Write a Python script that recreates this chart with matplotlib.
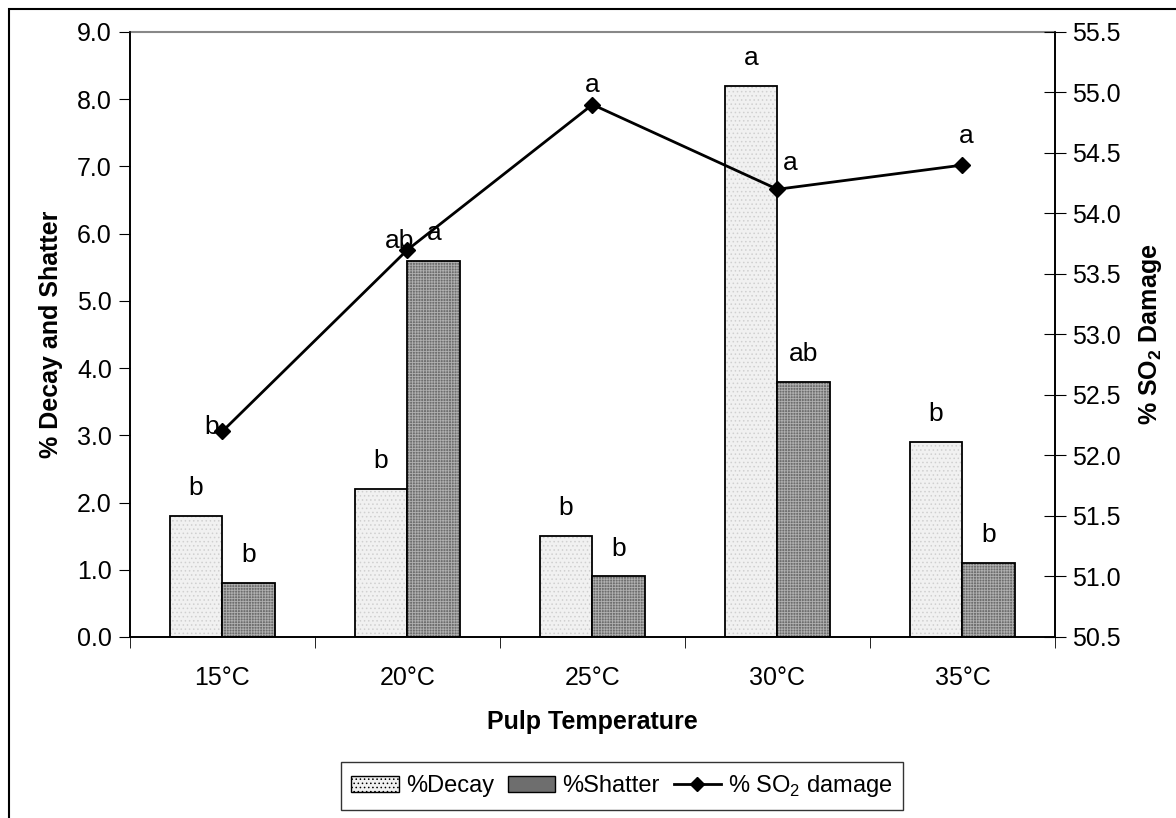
import matplotlib
matplotlib.use("Agg")
import matplotlib.pyplot as plt
import numpy as np
from matplotlib.patches import Patch, Rectangle
from matplotlib.lines import Line2D

plt.rcParams['font.family'] = ['Liberation Sans', 'DejaVu Sans']
plt.rcParams['font.size'] = 18
plt.rcParams['mathtext.fontset'] = 'custom'
plt.rcParams['mathtext.rm'] = 'Liberation Sans'
plt.rcParams['mathtext.bf'] = 'Liberation Sans:bold'
plt.rcParams['hatch.linewidth'] = 0.6

temps = ["15°C", "20°C", "25°C", "30°C", "35°C"]
decay = [1.8, 2.2, 1.5, 8.2, 2.9]
shatter = [0.8, 5.6, 0.9, 3.8, 1.1]
so2 = [52.2, 53.7, 54.9, 54.2, 54.4]
decay_letters = ["b", "b", "b", "a", "b"]
shatter_letters = ["b", "a", "b", "ab", "b"]
so2_letters = ["b", "ab", "a", "a", "a"]

# offsets (points) of the SO2 letters from their markers
so2_off = [(-8, 3), (-6, 6), (0, 14), (9, 19), (3, 21)]

decay_col = "#f1f1f1"
shatter_col = "#6e6e6e"

fig = plt.figure(figsize=(11.76, 8.18), dpi=100)
ax = fig.add_axes([0.1105, 0.2213, 0.7866, 0.7396])
x = np.arange(len(temps))
w = 0.286

ax.bar(x - w / 2, decay, w, color=decay_col, hatch="....", edgecolor="#d0d0d0", linewidth=0)
ax.bar(x - w / 2, decay, w, fill=False, edgecolor="black", linewidth=1.3)
ax.bar(x + w / 2, shatter, w, color=shatter_col, hatch="++++++", edgecolor="#b0b0b0", linewidth=0)
ax.bar(x + w / 2, shatter, w, fill=False, edgecolor="black", linewidth=1.3)

for i in range(len(temps)):
    ax.annotate(decay_letters[i], (x[i] - w / 2, decay[i]), xytext=(0, 20),
                textcoords="offset points", ha="center", va="center", fontsize=19)
    ax.annotate(shatter_letters[i], (x[i] + w / 2, shatter[i]), xytext=(0, 20),
                textcoords="offset points", ha="center", va="center", fontsize=19)

ax.set_xlim(-0.5, len(temps) - 0.5)
ax.set_ylim(0, 9)
ax.set_yticks(np.arange(0, 9.01, 1.0))
ax.set_yticklabels(["%.1f" % v for v in np.arange(0, 9.01, 1.0)])
ax.set_xticks(x)
ax.set_xticklabels(temps)
ax.set_xticks(np.arange(-0.5, len(temps), 1.0), minor=True)
ax.tick_params(axis="x", which="major", length=0, pad=21)
ax.tick_params(axis="x", which="minor", length=8, direction="out")
ax.tick_params(axis="y", length=8, direction="out", pad=5)
ax.spines["top"].set_color("#888888")
ax.spines["top"].set_linewidth(1.5)
for s in ["left", "bottom", "right"]:
    ax.spines[s].set_linewidth(1.2)
ax.set_xlabel("Pulp Temperature", fontweight="bold", labelpad=14)
ax.set_ylabel("% Decay and Shatter", fontweight="bold", labelpad=10)

ax2 = ax.twinx()
ax2.plot(x, so2, color="black", linewidth=2, marker="D", markersize=8)
for i in range(len(temps)):
    ax2.annotate(so2_letters[i], (x[i], so2[i]), xytext=so2_off[i],
                 textcoords="offset points", ha="center", va="center", fontsize=19)
ax2.set_ylim(50.5, 55.5)
ticks2 = np.arange(50.5, 55.51, 0.5)
ax2.set_yticks(ticks2)
ax2.set_yticklabels(["%.1f" % v for v in ticks2])
ax2.tick_params(axis="y", length=16, direction="inout", pad=4)
for s in ["left", "bottom", "right"]:
    ax2.spines[s].set_linewidth(1.2)
ax2.spines["top"].set_visible(False)
ax2.set_ylabel(r"% SO$_\mathbf{2}$ Damage", fontweight="bold", labelpad=12)

handles = [
    Patch(facecolor=decay_col, edgecolor="black", hatch="...."),
    Patch(facecolor=shatter_col, edgecolor="black"),
    Line2D([], [], color="black", linewidth=2, marker="D", markersize=7),
]
leg = fig.legend(handles, ["%Decay", "%Shatter", r"% SO$_\mathrm{2}$ damage"],
                 loc="center", bbox_to_anchor=(0.529, 0.039), ncol=3,
                 frameon=True, fancybox=False, edgecolor="black",
                 handlelength=2.0, handletextpad=0.3, columnspacing=0.6,
                 borderpad=0.45, fontsize=17)
leg.get_frame().set_linewidth(1.0)

fig.add_artist(Rectangle((9 / 1176, -0.5), 2, 1.5 - 9 / 818, transform=fig.transFigure,
                         fill=False, edgecolor="black", linewidth=1.5, clip_on=False))

fig.savefig("out.png", dpi=100)
